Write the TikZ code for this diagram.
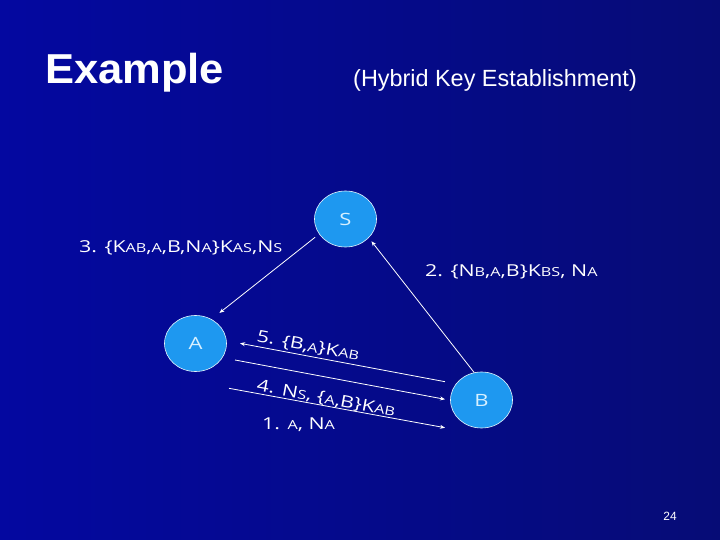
\documentclass[tikz,border=0pt]{standalone}
\usepackage{fontspec}
\usetikzlibrary{arrows.meta,positioning,shapes.geometric}
\newfontfamily\titlefont[FakeStretch=1.04]{Liberation Sans}
\newfontfamily\subfont{Liberation Sans}
\newfontfamily\msgfont[FakeStretch=1.3]{Open Sans}
\definecolor{bgleft}{RGB}{4,8,160}
\definecolor{bgright}{RGB}{6,12,118}
\definecolor{partyblue}{RGB}{30,152,240}
\definecolor{partytext}{RGB}{215,240,255}
\newcommand{\sm}[1]{{\fontsize{12.5}{12.5}\selectfont #1}}

\begin{document}
\begin{tikzpicture}[x=1bp,y=-1bp,
    party/.style={ellipse,draw=white!90!cyan,line width=0.6bp,fill=partyblue,
      minimum width=62bp,minimum height=56bp,inner sep=0pt,
      text=partytext,font=\msgfont\fontsize{17}{17}\selectfont},
    msg/.style={-{Stealth[length=5bp,width=4bp]},white,line width=0.8bp},
    lbl/.style={white,inner sep=0pt,font=\msgfont\fontsize{16.5}{16.5}\selectfont}]
  \useasboundingbox (0,0) rectangle (720,540);
  \shade[left color=bgleft,right color=bgright] (0,0) rectangle (720,540);
  % headings
  \node[white,anchor=base west,inner sep=0pt,font=\titlefont\bfseries\fontsize{42}{42}\selectfont] (title) at (45,84) {Example};
  \node[white,anchor=base west,inner sep=0pt,font=\subfont\fontsize{23.5}{23.5}\selectfont] (subtitle) at (353,87) {(Hybrid Key Establishment)};
  % parties
  \node[party] (S) at (345.5,219) {S};
  \node[party] (A) at (195.5,343.5) {A};
  \node[party] (B) at (481.5,400) {B};
  % free ends of the parallel messages
  \coordinate (m5from) at (445,381.7);
  \coordinate (m5to) at (240,343.3);
  \coordinate (m4from) at (235,360);
  \coordinate (m4to) at (445,399.3);
  \coordinate (m1from) at (229,388.3);
  \coordinate (m1to) at (445,427.7);
  % messages
  \draw[msg] ([xshift=-4bp,yshift=-3bp]S.210) -- ([xshift=5bp,yshift=8bp]A.50);
  \draw[msg] (B.105) -- ([xshift=3bp,yshift=-3bp]S.-40);
  \draw[msg] (m5from) -- (m5to);
  \draw[msg] (m4from) -- (m4to);
  \draw[msg] (m1from) -- (m1to);
  % message labels
  \node[lbl,anchor=base west] (l3) at (79,253) {3. \{K\sm{AB},\sm{A},B,N\sm{A}\}K\sm{AS},N\sm{S}};
  \node[lbl,anchor=base west] (l2) at (425,277) {2. \{N\sm{B},\sm{A},B\}K\sm{BS}, N\sm{A}};
  \node[lbl,anchor=base west,rotate=-10.6] (l5) at (256,341.5) {5. \{B,\sm{A}\}K\sm{AB}};
  \node[lbl,anchor=base west,rotate=-10.6] (l4) at (256,390.5) {4. N\sm{S}, \{\sm{A},B\}K\sm{AB}};
  \node[lbl,anchor=base west] (l1) at (262,429) {1. \sm{A}, N\sm{A}};
  % page number
  \node[white,inner sep=0pt,font=\subfont\fontsize{12}{12}\selectfont] (page) at (670,516) {24};
\end{tikzpicture}
\end{document}
